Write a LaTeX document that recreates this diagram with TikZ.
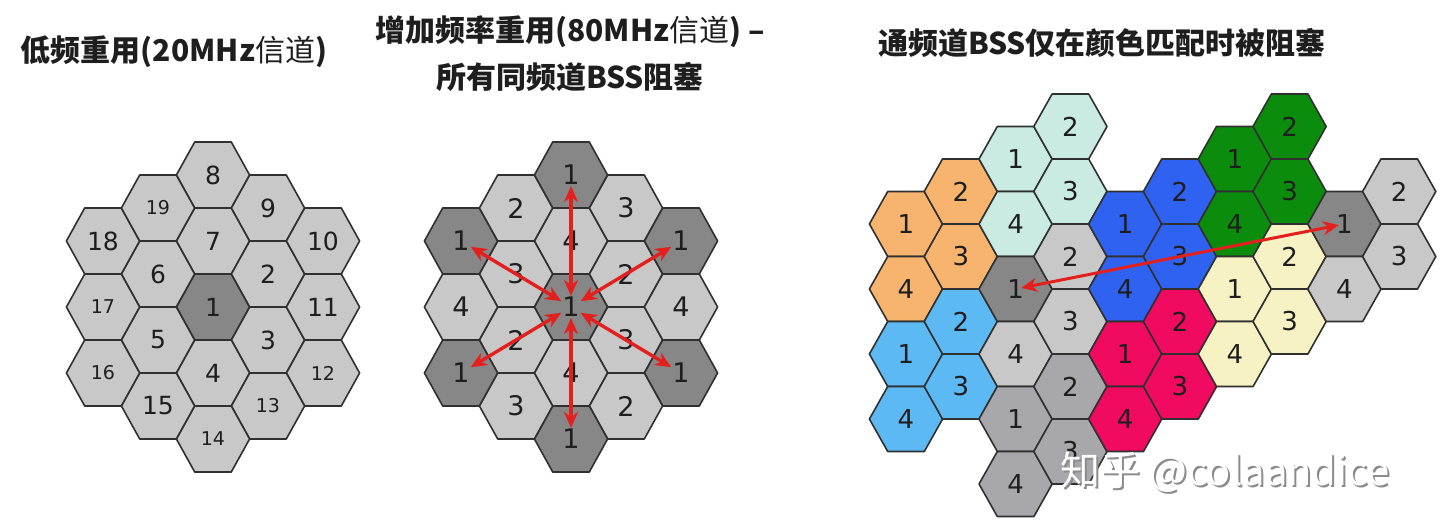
\documentclass[tikz,border=0pt]{standalone}
\usepackage{fontspec}
\setmainfont{DejaVu Sans}
\newfontfamily\cjk{Noto Sans CJK SC}
\usepackage{xcolor}
\usepackage{tikz}
\usetikzlibrary{arrows.meta}
\definecolor{edgeink}{HTML}{303030}
\definecolor{numink}{HTML}{1E1E1E}
\definecolor{cellgray}{HTML}{C8C8C8}
\definecolor{celldark}{HTML}{878787}
\definecolor{cellmid}{HTML}{A8A8AC}
\definecolor{cellorange}{HTML}{F7B46E}
\definecolor{cellteal}{HTML}{C9EBE2}
\definecolor{cellsky}{HTML}{5DB9F4}
\definecolor{cellblue}{HTML}{2F62F0}
\definecolor{cellpink}{HTML}{F00A60}
\definecolor{cellgreen}{HTML}{0C8C0C}
\definecolor{cellyellow}{HTML}{F6F2C4}
\definecolor{arrred}{HTML}{E4201E}
\newcommand{\hexR}{36.6}
\newcommand{\hexA}{33}
\newcommand{\hexB}{32.5}

\begin{document}
\begin{tikzpicture}[x=1pt, y=-1pt,
  hexcell/.style={draw=edgeink, line width=1.6pt, line join=round},
  num/.style={text=numink, inner sep=1pt},
  title/.style={font=\cjk\bfseries\fontsize{30}{47}\selectfont, text=numink,
                align=center, inner sep=0pt},
  wmark/.style={font=\cjk\fontsize{40}{40}\selectfont, inner sep=0pt},
  arr/.style={{Stealth[length=16pt,width=14pt]}-{Stealth[length=16pt,width=14pt]},
              arrred, line width=3.4pt}]
  \useasboundingbox (0,0) rectangle (1440,526);

  % titles
  \node[title] (t1) at (174,52) {低频重用(20MHz{\mdseries 信道})};
  \node[title] (t2) at (570,54) {增加频率重用(80MHz{\mdseries 信道}) –\\所有同频道BSS阻塞};
  \node[title] (t3) at (1102,43) {通频道BSS仅在颜色匹配时被阻塞};

  % panel 1: low reuse
  \foreach \c/\r/\t/\f/\s in {0/0/1/celldark/25, 0/1/7/cellgray/25, 1/0.5/2/cellgray/25,
      1/-0.5/3/cellgray/25, 0/-1/4/cellgray/25, -1/-0.5/5/cellgray/25, -1/0.5/6/cellgray/25,
      0/2/8/cellgray/25, 1/1.5/9/cellgray/25, 2/1/10/cellgray/25, 2/0/11/cellgray/25,
      2/-1/12/cellgray/19, 1/-1.5/13/cellgray/19, 0/-2/14/cellgray/19, -1/-1.5/15/cellgray/25,
      -2/-1/16/cellgray/19, -2/0/17/cellgray/19, -2/1/18/cellgray/25, -1/1.5/19/cellgray/19} {
    \draw[hexcell, fill=\f] ({213+55*\c},{307-66*\r}) ++(-\hexR,0) -- ++(\hexR/2,-\hexA)
      -- ++(\hexR,0) -- ++(\hexR/2,\hexA) -- ++(-\hexR/2,\hexA) -- ++(-\hexR,0) -- cycle;
    \node[num, font=\fontsize{\s}{\s}\selectfont] (lo\t) at ({213+55*\c},{307-66*\r}) {\t};
  }

  % panel 2: 80MHz reuse
  \foreach \c/\r/\t/\f/\n in {0/0/1/celldark/c, 0/1/4/cellgray/m1, 1/0.5/2/cellgray/m2,
      1/-0.5/3/cellgray/m3, 0/-1/4/cellgray/m4, -1/-0.5/2/cellgray/m5, -1/0.5/3/cellgray/m6,
      0/2/1/celldark/n, 1/1.5/3/cellgray/m7, 2/1/1/celldark/ne, 2/0/4/cellgray/m8,
      2/-1/1/celldark/se, 1/-1.5/2/cellgray/m9, 0/-2/1/celldark/s, -1/-1.5/3/cellgray/m10,
      -2/-1/1/celldark/sw, -2/0/4/cellgray/m11, -2/1/1/celldark/nw, -1/1.5/2/cellgray/m12} {
    \draw[hexcell, fill=\f] ({571+55*\c},{307-66*\r}) ++(-\hexR,0) -- ++(\hexR/2,-\hexA)
      -- ++(\hexR,0) -- ++(\hexR/2,\hexA) -- ++(-\hexR/2,\hexA) -- ++(-\hexR,0) -- cycle;
    \node[num, font=\fontsize{27}{27}\selectfont] (hi-\n) at ({571+55*\c},{307-66*\r}) {\t};
  }
  \draw[arr] (hi-c) -- (hi-n);
  \draw[arr] (hi-c) -- (hi-ne);
  \draw[arr] (hi-c) -- (hi-se);
  \draw[arr] (hi-c) -- (hi-s);
  \draw[arr] (hi-c) -- (hi-sw);
  \draw[arr] (hi-c) -- (hi-nw);

  % panel 3: BSS colouring
  \foreach \c/\r/\t/\f/\n in {0/0/1/cellorange/or1, 0/1/4/cellorange/or4, 1/0/2/cellorange/or2,
      1/1/3/cellorange/or3, 0/2/1/cellsky/sk1, 0/3/4/cellsky/sk4, 1/2/2/cellsky/sk2,
      1/3/3/cellsky/sk3, 2/0/1/cellteal/te1, 2/1/4/cellteal/te4, 3/0/2/cellteal/te2,
      3/1/3/cellteal/te3, 2/2/1/celldark/dka1, 2/3/4/cellgray/ga4, 3/2/2/cellgray/ga2,
      3/3/3/cellgray/ga3, 2/4/1/cellmid/md1, 2/5/4/cellmid/md4, 3/4/2/cellmid/md2,
      3/5/3/cellmid/md3, 4/2/1/cellblue/bl1, 4/3/4/cellblue/bl4, 5/2/2/cellblue/bl2,
      5/3/3/cellblue/bl3, 4/4/1/cellpink/pk1, 4/5/4/cellpink/pk4, 5/4/2/cellpink/pk2,
      5/5/3/cellpink/pk3, 6/2/1/cellgreen/gr1, 6/3/4/cellgreen/gr4, 7/2/2/cellgreen/gr2,
      7/3/3/cellgreen/gr3, 6/4/1/cellyellow/ye1, 6/5/4/cellyellow/ye4, 7/4/2/cellyellow/ye2,
      7/5/3/cellyellow/ye3, 8/4/1/celldark/dkb1, 8/5/4/cellgray/gb4, 9/4/2/cellgray/gb2,
      9/5/3/cellgray/gb3} {
    \draw[hexcell, fill=\f] ({906+54.8*\c},{224+65*\r-32.5*\c}) ++(-\hexR,0) -- ++(\hexR/2,-\hexB)
      -- ++(\hexR,0) -- ++(\hexR/2,\hexB) -- ++(-\hexR/2,\hexB) -- ++(-\hexR,0) -- cycle;
    \node[num, font=\fontsize{26}{26}\selectfont] (\n) at ({906+54.8*\c},{224+65*\r-32.5*\c}) {\t};
  }
  \draw[arr, line width=3pt, shorten <=-4pt, shorten >=-4pt] (dka1) -- (dkb1);

  % watermark
  \node[wmark, text=black!45] (wmshade) at (1227,474) {知乎 @colaandice};
  \node[wmark, text=white] (wm) at (1225,472) {知乎 @colaandice};
\end{tikzpicture}
\end{document}
